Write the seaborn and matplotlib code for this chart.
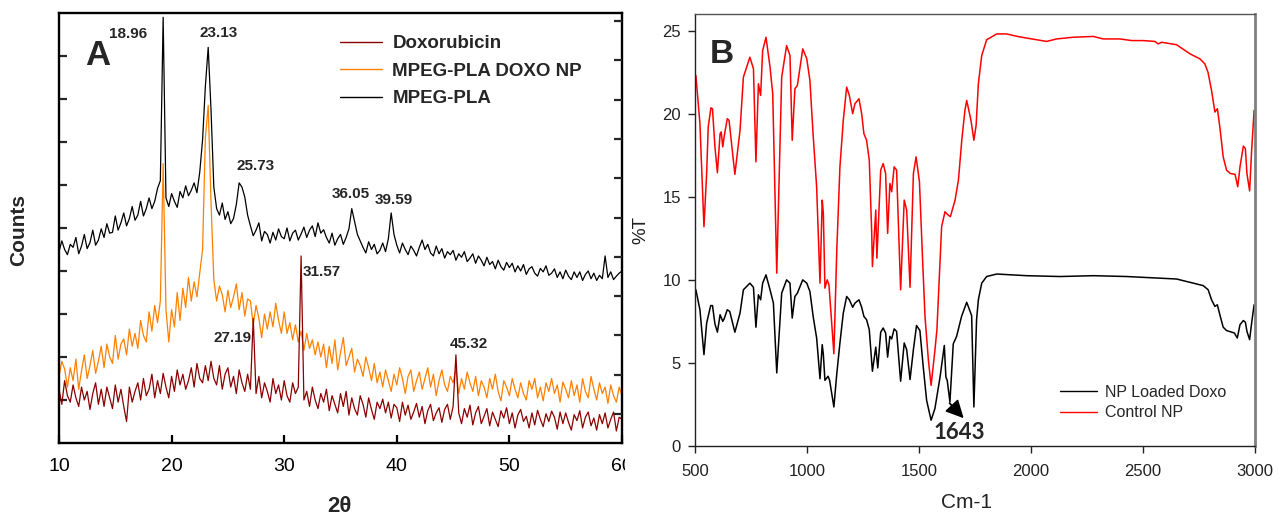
import numpy as np
import pandas as pd
import matplotlib
matplotlib.use("Agg")
import matplotlib.pyplot as plt
import seaborn as sns
from matplotlib.lines import Line2D
from matplotlib.patches import Rectangle

# ---------------- Panel A: XRD (2theta grid of the diffractometer, step 0.25) ----------------
two_theta = np.arange(10.0, 60.001, 0.25)

mpeg_pla = [
    4.45, 4.70, 4.50, 4.38,  4.62, 4.55, 4.78, 4.40,  4.58, 4.85, 4.52, 4.66,
    4.95, 4.60, 4.72, 4.98,  4.78, 5.10, 4.88, 4.90,  5.28, 4.95, 5.12, 5.35,
    5.05, 5.22, 5.50, 5.18,  5.30, 5.62, 5.28, 5.45,  5.70, 5.45, 5.62, 5.92,
    6.10, 9.90, 5.70, 5.50,  5.80, 5.62, 5.48, 5.85,  5.70, 5.98, 5.75, 5.88,
    6.05, 5.82, 6.30, 7.05,  8.30, 9.20, 7.75, 5.95,  5.45, 5.30, 5.58, 5.20,
    5.38, 5.10, 5.22, 5.55,  6.05, 5.95, 5.72, 5.30,  5.05, 4.82, 4.95, 5.12,
    4.70, 4.92, 4.85, 4.65,  4.90, 4.72, 4.98, 4.80,  4.75, 5.00, 4.70, 4.88,
    4.95, 4.72, 4.86, 5.02,  4.78, 4.95, 5.05, 4.80,  5.12, 4.88, 4.96, 4.78,
    4.65, 4.88, 4.60, 4.75,  4.85, 4.62, 4.78, 4.98,  5.45, 5.15, 4.85, 4.70,
    4.55, 4.42, 4.68, 4.50,  4.62, 4.40, 4.48, 4.65,  4.45, 4.75, 5.35, 4.85,
    4.60, 4.42, 4.65, 4.50,  4.38, 4.58, 4.48, 4.35,  4.55, 4.72, 4.50, 4.62,
    4.42, 4.35, 4.58, 4.40,  4.52, 4.30, 4.45, 4.38,  4.48, 4.25, 4.40, 4.32,
    4.45, 4.22, 4.30, 4.40,  4.18, 4.35, 4.25, 4.12,  4.32, 4.15, 4.22, 4.05,
    4.25, 4.10, 4.02, 4.20,  4.08, 4.18, 3.98, 4.12,  4.00, 4.15, 3.92, 4.05,
    4.10, 3.95, 3.88, 4.06,  3.98, 4.12, 3.90, 3.95,  4.05, 3.85, 3.98, 3.82,
    4.02, 3.88, 3.80, 3.98,  3.85, 3.98, 3.78, 3.92,  4.00, 3.82, 3.95, 3.78,
    3.90, 3.82, 4.35, 3.85,  3.98, 3.80, 3.88, 3.95,  4.00,
]

doxo_np = [
    1.55, 1.90, 1.72, 1.30,  1.75, 1.45, 1.95, 1.25,  1.68, 2.05, 1.50, 1.80,
    2.15, 1.62, 1.90, 2.25,  1.75, 2.30, 2.00, 1.85,  2.50, 1.95, 2.30, 2.42,
    2.05, 2.65, 2.25, 2.55,  2.20, 2.85, 2.50, 2.35,  3.05, 2.60, 3.20, 2.80,
    3.30, 6.50, 3.10, 2.35,  3.10, 2.70, 3.50, 2.85,  3.60, 3.15, 3.85, 3.30,
    3.75, 3.40, 3.95, 4.50,  7.10, 7.85, 5.60, 3.80,  3.30, 3.65, 3.45, 3.05,
    3.55, 3.15, 3.40, 3.70,  3.10, 3.50, 2.95, 3.35,  3.30, 2.75, 3.20, 2.90,
    2.45, 3.00, 2.65, 3.05,  2.70, 3.25, 2.85, 2.55,  3.05, 2.55, 2.80, 2.40,
    2.75, 2.35, 2.60, 2.15,  2.55, 2.20, 2.40, 2.05,  2.35, 2.00, 2.30, 1.75,
    2.25, 1.85, 2.40, 1.70,  2.10, 2.45, 1.80, 2.00,  2.20, 1.65, 1.95, 1.80,
    1.55, 2.00, 1.75, 1.45,  1.85, 1.40, 1.65, 1.30,  1.70, 1.45, 1.20, 1.60,
    1.35, 1.75, 1.50, 1.15,  1.55, 1.70, 1.20, 1.45,  1.65, 1.25, 1.50, 1.75,
    1.30, 1.60, 1.10, 1.45,  1.70, 1.35, 1.20, 1.55,  1.40, 1.72, 1.15, 1.50,
    1.25, 1.65, 1.40, 1.20,  1.55, 1.10, 1.45, 1.30,  1.05, 1.50, 1.25, 1.60,
    1.20, 0.98, 1.45, 1.30,  1.10, 1.50, 1.25, 1.05,  1.40, 1.15, 1.00, 1.45,
    1.25, 1.50, 1.05, 1.30,  0.98, 1.40, 1.20, 1.50,  1.15, 1.35, 0.95, 1.42,
    1.25, 1.05, 1.45, 1.10,  1.35, 0.95, 1.50, 1.20,  1.05, 1.55, 1.25, 1.00,
    1.40, 1.15, 1.30, 0.92,  1.35, 1.10, 0.95, 1.30,  1.10,
]

doxorubicin = [
    1.25, 0.90, 1.45, 1.10,  0.95, 1.35, 1.05, 0.85,  1.30, 1.00, 1.20, 0.78,
    1.15, 1.40, 0.90, 1.25,  0.85, 1.30, 1.05, 0.80,  1.35, 0.95, 1.25, 0.85,
    0.50, 1.30, 0.95, 1.20,  1.40, 1.00, 1.50, 1.10,  1.25, 1.60, 1.05, 1.45,
    1.15, 1.62, 1.30, 1.05,  1.55, 1.20, 1.70, 1.35,  1.60, 1.25, 1.45, 1.75,
    1.30, 1.85, 1.50, 1.40,  1.80, 1.45, 1.90, 1.50,  1.35, 1.80, 1.25, 1.60,
    1.75, 1.30, 1.55, 1.15,  1.70, 1.40, 1.20, 1.60,  1.25, 2.90, 1.15, 1.55,
    1.05, 1.40, 1.20, 0.95,  1.50, 1.15, 1.35, 1.00,  1.45, 1.10, 0.95, 1.40,
    1.15, 1.30, 4.35, 1.00,  1.20, 0.85, 1.30, 1.00,  0.80, 1.15, 0.95, 1.25,
    0.75, 1.10, 0.90, 0.70,  1.15, 0.85, 1.20, 0.65,  1.05, 0.80, 0.65, 1.10,
    0.90, 0.60, 1.05, 0.78,  0.55, 0.95, 0.80, 1.02,  0.70, 0.95, 0.58, 0.90,
    0.82, 0.50, 0.95, 0.65,  0.88, 0.55, 0.72, 0.92,  0.60, 0.85, 0.45, 0.75,
    0.90, 0.52, 0.70, 0.82,  0.48, 0.78, 0.90, 0.55,  0.85, 2.05, 0.70, 0.45,
    0.80, 0.60, 0.88, 0.42,  0.70, 0.85, 0.45, 0.62,  0.80, 0.40, 0.72, 0.55,
    0.38, 0.75, 0.58, 0.82,  0.45, 0.70, 0.35, 0.65,  0.78, 0.50, 0.62, 0.35,
    0.70, 0.42, 0.76, 0.55,  0.38, 0.68, 0.50, 0.74,  0.60, 0.32, 0.72, 0.45,
    0.70, 0.48, 0.30, 0.66,  0.52, 0.75, 0.35, 0.60,  0.72, 0.40, 0.58, 0.30,
    0.66, 0.45, 0.70, 0.35,  0.55, 0.72, 0.28, 0.60,  0.55,
]

xrd_labels = ["Doxorubicin", "MPEG-PLA DOXO NP", "MPEG-PLA"]
xrd_colors = ["#8B0000", "#FF8000", "#000000"]
peak_labels = ["18.96", "23.13", "25.73", "36.05", "39.59", "31.57", "27.19", "45.32"]
peak_label_x = [16.13, 24.21, 27.45, 35.93, 39.75, 33.36, 25.41, 46.41]
peak_label_y = [9.52, 9.53, 6.44, 5.79, 5.65, 3.98, 2.44, 2.30]

# ---------------- Panel B: FTIR ----------------
wn_control = [504, 522, 540, 552, 559, 571, 578, 589, 600, 612, 617, 624, 630, 644, 652, 678,
              701, 716, 745, 761, 772, 783, 793, 802, 817, 835, 847, 865, 887, 909, 924, 934,
              946, 957, 981, 999, 1013, 1027, 1043, 1058, 1068, 1073, 1080, 1090, 1098, 1120,
              1133, 1147, 1162, 1177, 1189, 1204, 1214, 1232, 1244, 1254, 1266, 1278, 1289,
              1292, 1307, 1312, 1329, 1340, 1351, 1360, 1370, 1378, 1389, 1400, 1418, 1434,
              1445, 1460, 1475, 1487, 1502, 1516, 1527, 1542, 1554, 1571, 1580, 1592, 1601,
              1616, 1630, 1640, 1661, 1676, 1691, 1705, 1713, 1732, 1745, 1755, 1765, 1780,
              1802, 1847, 1891, 1940, 1981, 2048, 2070, 2115, 2188, 2278, 2322, 2396, 2450,
              2501, 2553, 2568, 2583, 2650, 2710, 2754, 2776, 2790, 2806, 2821, 2832, 2843,
              2858, 2873, 2890, 2911, 2923, 2933, 2948, 2957, 2964, 2976, 2985, 2996]
t_control = [22.3, 19.4, 13.2, 16.4, 19.2, 20.35, 20.3, 18.0, 16.45, 18.8, 18.9, 18.0, 18.6,
             19.7, 19.6, 16.35, 19.0, 22.2, 23.4, 22.7, 17.1, 21.8, 21.1, 23.8, 24.6, 22.8,
             21.2, 10.4, 22.2, 24.1, 23.5, 18.4, 21.5, 21.7, 23.9, 23.3, 22.0, 18.8, 15.6,
             9.8, 14.8, 14.0, 9.5, 10.0, 9.7, 5.55, 11.8, 16.8, 19.6, 21.6, 21.1, 20.0, 20.6,
             20.9, 20.0, 18.8, 18.4, 17.2, 12.8, 10.8, 14.2, 11.3, 16.6, 17.0, 16.4, 12.8,
             15.8, 15.3, 16.8, 16.6, 9.4, 14.8, 14.2, 9.55, 16.4, 17.4, 15.9, 11.2, 7.75,
             5.15, 3.65, 5.75, 7.0, 10.5, 13.2, 14.1, 13.9, 13.8, 14.8, 16.0, 18.4, 20.2,
             20.8, 19.6, 18.4, 19.3, 21.8, 23.5, 24.45, 24.8, 24.8, 24.65, 24.55, 24.4,
             24.35, 24.5, 24.6, 24.65, 24.5, 24.5, 24.4, 24.4, 24.35, 24.2, 24.3, 24.15,
             23.6, 23.3, 23.0, 22.5, 21.4, 20.1, 20.3, 19.2, 17.4, 16.6, 16.4, 16.35, 15.6,
             16.8, 18.05, 17.9, 16.4, 15.35, 17.8, 20.2]

wn_loaded = [504, 522, 540, 552, 570, 578, 589, 600, 612, 624, 630, 644, 655, 678, 701, 716,
             745, 761, 772, 783, 793, 802, 817, 835, 850, 865, 887, 909, 924, 934, 946, 957,
             981, 999, 1013, 1028, 1043, 1058, 1068, 1073, 1080, 1094, 1101, 1120, 1133, 1147,
             1162, 1177, 1189, 1204, 1214, 1232, 1244, 1254, 1266, 1278, 1292, 1307, 1316,
             1329, 1340, 1351, 1360, 1370, 1378, 1389, 1400, 1418, 1434, 1445, 1460, 1475,
             1489, 1504, 1519, 1534, 1554, 1571, 1594, 1613, 1620, 1626, 1638, 1653, 1668,
             1690, 1713, 1735, 1745, 1757, 1765, 1780, 1802, 1847, 1981, 2129, 2278, 2427,
             2576, 2650, 2725, 2769, 2791, 2806, 2821, 2832, 2843, 2858, 2873, 2908, 2921,
             2933, 2948, 2957, 2964, 2976, 2985, 2996]
t_loaded = [9.4, 8.2, 5.5, 7.4, 8.45, 8.45, 7.35, 6.85, 7.9, 7.5, 7.65, 8.2, 8.1, 6.85, 8.0,
            9.4, 9.8, 9.55, 7.15, 9.1, 8.8, 9.8, 10.3, 9.4, 8.6, 4.4, 9.2, 10.0, 9.8, 7.7,
            9.0, 9.2, 10.0, 9.8, 9.3, 7.75, 6.5, 4.05, 6.1, 5.5, 3.95, 4.2, 3.95, 2.35, 4.35,
            6.2, 8.0, 9.0, 8.8, 8.35, 8.6, 8.8, 8.35, 7.8, 7.6, 7.0, 4.5, 5.95, 4.7, 6.85,
            7.1, 6.8, 5.35, 6.6, 6.45, 7.05, 6.9, 3.9, 6.2, 5.8, 4.0, 5.8, 7.25, 6.95, 4.75,
            2.75, 1.55, 2.25, 4.15, 6.05, 4.15, 3.95, 2.65, 6.15, 6.6, 7.8, 8.65, 7.85, 2.35,
            7.6, 8.8, 9.8, 10.2, 10.35, 10.25, 10.2, 10.25, 10.2, 10.1, 10.05, 9.8, 9.65,
            9.4, 8.8, 8.4, 8.5, 7.9, 7.15, 6.95, 6.8, 6.5, 7.3, 7.55, 7.45, 6.9, 6.4, 7.4,
            8.5]

ftir_labels = ["NP Loaded Doxo", "Control NP"]
ftir_colors = ["#000000", "#FF0000"]
arrow_label = "1643"

# ---------------- styling ----------------
sns.set_theme(style="white")
plt.rcParams["font.family"] = ["Liberation Sans", "DejaVu Sans"]
plt.rcParams["axes.unicode_minus"] = False

fig = plt.figure(figsize=(12.88, 5.19), dpi=100)
W, H = 1288, 519

def fig_rect(x0, y0, x1, y1):
    return [x0 / W, 1 - y1 / H, (x1 - x0) / W, (y1 - y0) / H]

axA = fig.add_axes(fig_rect(59, 13, 622, 443))
axB = fig.add_axes(fig_rect(695, 14, 1255, 446))

# ---- Panel A ----
xrd_df = pd.DataFrame({"two_theta": two_theta, xrd_labels[0]: doxorubicin,
                       xrd_labels[1]: doxo_np, xrd_labels[2]: mpeg_pla})
draw_order = [1, 0, 2]
for k in draw_order:
    sns.lineplot(data=xrd_df, x="two_theta", y=xrd_labels[k], ax=axA, color=xrd_colors[k],
                 lw=0.9, estimator=None, sort=False)
axA.set_xlim(10, 60)
axA.set_ylim(0, 10)
axA.set_xticks([10, 20, 30, 40, 50, 60])
axA.set_yticks(range(1, 10))
axA.set_yticklabels([])
axA.set_xlabel("")
axA.set_ylabel("")
for s in axA.spines.values():
    s.set_visible(True)
    s.set_color("black")
    s.set_linewidth(1.7)
axA.tick_params(axis="x", direction="in", length=6, width=1.6, pad=11, labelsize=14,
                colors="black", bottom=True)
axA.tick_params(axis="y", direction="in", length=6, width=1.6, left=True)
axA2 = axA.twinx()
axA2.set_ylim(0, 430 / 39.3)
axA2.set_yticks([29 / 39.3 + k for k in range(11)])
axA2.set_yticklabels([])
axA2.tick_params(axis="y", direction="in", length=6, width=1.6, right=True)
for s in axA2.spines.values():
    s.set_visible(False)

for txt, px, py in zip(peak_labels, peak_label_x, peak_label_y):
    axA.text(px, py, txt, ha="center", va="center", fontsize=11, fontweight="bold")
axA.text(0.069, 0.901, "A", transform=axA.transAxes, ha="center", va="center",
         fontsize=25, fontweight="bold")

handlesA = [Line2D([0], [0], color=c, lw=1.0) for c in xrd_colors]
legA = axA.legend(handlesA, xrd_labels, loc="upper left", bbox_to_anchor=(0.499, 0.948),
                  frameon=False, borderpad=0, borderaxespad=0, handlelength=2.25,
                  handletextpad=0.55, labelspacing=0.55,
                  prop={"weight": "bold", "size": 13.5})

fig.text(19 / W, 1 - 230 / H, "Counts", rotation=90, ha="center", va="center",
         fontsize=15, fontweight="bold")
fig.text(339 / W, 1 - 507 / H, "2θ", ha="center", va="center", fontsize=16,
         fontweight="bold")
# page crop at the right of panel A (cuts the "60" label like the source figure)
fig.patches.append(Rectangle((625 / W, 1 - 482 / H), 14 / W, 30 / H, transform=fig.transFigure,
                             facecolor="white", edgecolor="none", zorder=10))

# ---- Panel B ----
ftir_df_l = pd.DataFrame({"wn": wn_loaded, "T": t_loaded})
ftir_df_c = pd.DataFrame({"wn": wn_control, "T": t_control})
sns.lineplot(data=ftir_df_c, x="wn", y="T", ax=axB, color=ftir_colors[1], lw=1.1,
             estimator=None, sort=False)
sns.lineplot(data=ftir_df_l, x="wn", y="T", ax=axB, color=ftir_colors[0], lw=1.1,
             estimator=None, sort=False)
axB.set_xlim(500, 3000)
axB.set_ylim(0, 26)
axB.set_xticks([500, 1000, 1500, 2000, 2500, 3000])
axB.set_yticks([0, 5, 10, 15, 20, 25])
axB.set_xlabel("")
axB.set_ylabel("")
for name, s in axB.spines.items():
    s.set_visible(True)
    s.set_color("#222222")
    s.set_linewidth(1.0)
axB.spines["right"].set_color("#808080")
axB.spines["right"].set_linewidth(2.0)
axB.spines["top"].set_color("#555555")
axB.tick_params(axis="both", direction="out", length=5, width=1.0, colors="#222222",
                labelsize=12, bottom=True, left=True)
axB.tick_params(axis="x", pad=8)
axB.tick_params(axis="y", pad=5)

handlesB = [Line2D([0], [0], color=c, lw=1.0) for c in ftir_colors]
axB.legend(handlesB, ftir_labels, loc="upper left", bbox_to_anchor=(0.652, 0.142),
           frameon=False, borderpad=0, borderaxespad=0, handlelength=2.3,
           handletextpad=0.5, labelspacing=0.35, fontsize=11.5)

axB.text(0.048, 0.907, "B", transform=axB.transAxes, ha="center", va="center",
         fontsize=24, fontweight="bold")
axB.annotate("", xy=(1708, 1.55), xytext=(1628, 2.7),
             arrowprops=dict(arrowstyle="-|>,head_length=0.9,head_width=0.45",
                             color="black", lw=1.3))
axB.text(1678, 0.8, arrow_label, ha="center", va="center", fontsize=16,
         fontweight="bold", family=["Lato", "DejaVu Sans"])

fig.text(967 / W, 1 - 503 / H, "Cm-1", ha="center", va="center", fontsize=15,
         color="#222222")
fig.text(641 / W, 1 - 230 / H, "%T", rotation=90, ha="center", va="center", fontsize=13.5,
         color="#222222")

fig.savefig("out.png", dpi=100, facecolor="white")
